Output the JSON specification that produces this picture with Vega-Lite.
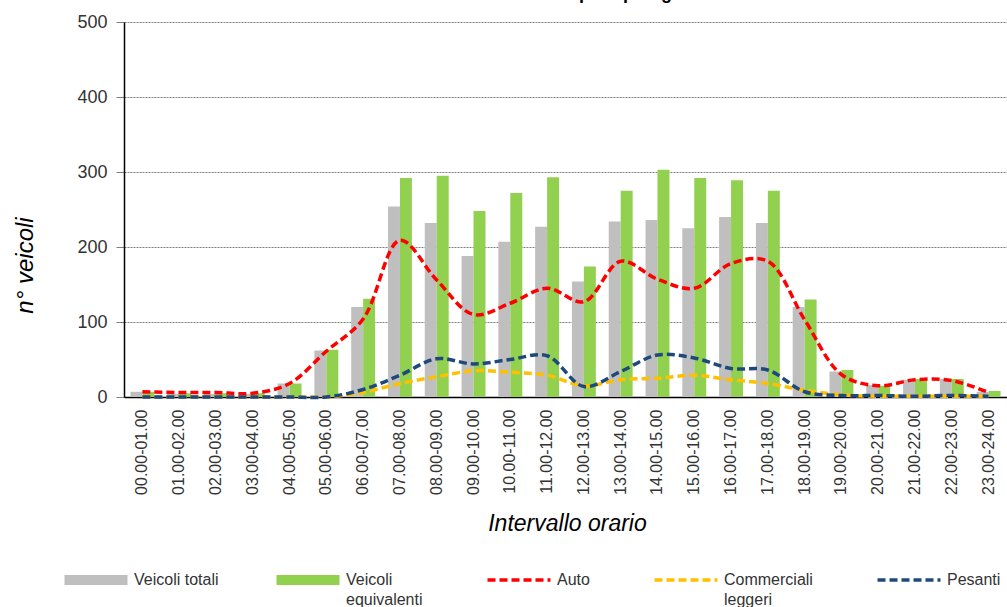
{
  "$schema": "https://vega.github.io/schema/vega-lite/v6.json",
  "width": 883,
  "height": 375,
  "autosize": {"type": "none"},
  "padding": {"left": 124, "top": 22, "right": 0, "bottom": 210},
  "background": "white",
  "title": {"text": "Flussi veicolari per tipologia", "font": "Liberation Sans", "fontSize": 18, "fontWeight": "bold", "color": "#000000", "anchor": "middle", "offset": 10},
  "config": {
    "font": "Liberation Sans",
    "view": {"stroke": null}
  },
  "datasets": {
    "flussi": [
      {"ora": "00.00-01.00", "serie": "Veicoli totali", "v": 7},
      {"ora": "01.00-02.00", "serie": "Veicoli totali", "v": 4},
      {"ora": "02.00-03.00", "serie": "Veicoli totali", "v": 4},
      {"ora": "03.00-04.00", "serie": "Veicoli totali", "v": 4},
      {"ora": "04.00-05.00", "serie": "Veicoli totali", "v": 18},
      {"ora": "05.00-06.00", "serie": "Veicoli totali", "v": 62},
      {"ora": "06.00-07.00", "serie": "Veicoli totali", "v": 120},
      {"ora": "07.00-08.00", "serie": "Veicoli totali", "v": 254},
      {"ora": "08.00-09.00", "serie": "Veicoli totali", "v": 232},
      {"ora": "09.00-10.00", "serie": "Veicoli totali", "v": 188},
      {"ora": "10.00-11.00", "serie": "Veicoli totali", "v": 207},
      {"ora": "11.00-12.00", "serie": "Veicoli totali", "v": 227},
      {"ora": "12.00-13.00", "serie": "Veicoli totali", "v": 154},
      {"ora": "13.00-14.00", "serie": "Veicoli totali", "v": 234},
      {"ora": "14.00-15.00", "serie": "Veicoli totali", "v": 236},
      {"ora": "15.00-16.00", "serie": "Veicoli totali", "v": 225},
      {"ora": "16.00-17.00", "serie": "Veicoli totali", "v": 240},
      {"ora": "17.00-18.00", "serie": "Veicoli totali", "v": 232},
      {"ora": "18.00-19.00", "serie": "Veicoli totali", "v": 120},
      {"ora": "19.00-20.00", "serie": "Veicoli totali", "v": 34},
      {"ora": "20.00-21.00", "serie": "Veicoli totali", "v": 16},
      {"ora": "21.00-22.00", "serie": "Veicoli totali", "v": 23},
      {"ora": "22.00-23.00", "serie": "Veicoli totali", "v": 24},
      {"ora": "23.00-24.00", "serie": "Veicoli totali", "v": 7},
      {"ora": "00.00-01.00", "serie": "Veicoli equivalenti", "v": 7},
      {"ora": "01.00-02.00", "serie": "Veicoli equivalenti", "v": 5},
      {"ora": "02.00-03.00", "serie": "Veicoli equivalenti", "v": 5},
      {"ora": "03.00-04.00", "serie": "Veicoli equivalenti", "v": 5},
      {"ora": "04.00-05.00", "serie": "Veicoli equivalenti", "v": 18},
      {"ora": "05.00-06.00", "serie": "Veicoli equivalenti", "v": 63},
      {"ora": "06.00-07.00", "serie": "Veicoli equivalenti", "v": 131},
      {"ora": "07.00-08.00", "serie": "Veicoli equivalenti", "v": 292},
      {"ora": "08.00-09.00", "serie": "Veicoli equivalenti", "v": 295},
      {"ora": "09.00-10.00", "serie": "Veicoli equivalenti", "v": 248},
      {"ora": "10.00-11.00", "serie": "Veicoli equivalenti", "v": 272},
      {"ora": "11.00-12.00", "serie": "Veicoli equivalenti", "v": 293},
      {"ora": "12.00-13.00", "serie": "Veicoli equivalenti", "v": 174},
      {"ora": "13.00-14.00", "serie": "Veicoli equivalenti", "v": 275},
      {"ora": "14.00-15.00", "serie": "Veicoli equivalenti", "v": 303},
      {"ora": "15.00-16.00", "serie": "Veicoli equivalenti", "v": 292},
      {"ora": "16.00-17.00", "serie": "Veicoli equivalenti", "v": 289},
      {"ora": "17.00-18.00", "serie": "Veicoli equivalenti", "v": 275},
      {"ora": "18.00-19.00", "serie": "Veicoli equivalenti", "v": 130},
      {"ora": "19.00-20.00", "serie": "Veicoli equivalenti", "v": 36},
      {"ora": "20.00-21.00", "serie": "Veicoli equivalenti", "v": 15},
      {"ora": "21.00-22.00", "serie": "Veicoli equivalenti", "v": 24},
      {"ora": "22.00-23.00", "serie": "Veicoli equivalenti", "v": 24},
      {"ora": "23.00-24.00", "serie": "Veicoli equivalenti", "v": 8},
      {"ora": "00.00-01.00", "serie": "Auto", "v": 7},
      {"ora": "01.00-02.00", "serie": "Auto", "v": 6},
      {"ora": "02.00-03.00", "serie": "Auto", "v": 6},
      {"ora": "03.00-04.00", "serie": "Auto", "v": 5},
      {"ora": "04.00-05.00", "serie": "Auto", "v": 18},
      {"ora": "05.00-06.00", "serie": "Auto", "v": 61},
      {"ora": "06.00-07.00", "serie": "Auto", "v": 104},
      {"ora": "07.00-08.00", "serie": "Auto", "v": 209},
      {"ora": "08.00-09.00", "serie": "Auto", "v": 156},
      {"ora": "09.00-10.00", "serie": "Auto", "v": 110},
      {"ora": "10.00-11.00", "serie": "Auto", "v": 125},
      {"ora": "11.00-12.00", "serie": "Auto", "v": 145},
      {"ora": "12.00-13.00", "serie": "Auto", "v": 127},
      {"ora": "13.00-14.00", "serie": "Auto", "v": 181},
      {"ora": "14.00-15.00", "serie": "Auto", "v": 157},
      {"ora": "15.00-16.00", "serie": "Auto", "v": 145},
      {"ora": "16.00-17.00", "serie": "Auto", "v": 178},
      {"ora": "17.00-18.00", "serie": "Auto", "v": 181},
      {"ora": "18.00-19.00", "serie": "Auto", "v": 103},
      {"ora": "19.00-20.00", "serie": "Auto", "v": 30},
      {"ora": "20.00-21.00", "serie": "Auto", "v": 15},
      {"ora": "21.00-22.00", "serie": "Auto", "v": 23},
      {"ora": "22.00-23.00", "serie": "Auto", "v": 22},
      {"ora": "23.00-24.00", "serie": "Auto", "v": 6},
      {"ora": "00.00-01.00", "serie": "Commerciali leggeri", "v": 0},
      {"ora": "01.00-02.00", "serie": "Commerciali leggeri", "v": 0},
      {"ora": "02.00-03.00", "serie": "Commerciali leggeri", "v": 0},
      {"ora": "03.00-04.00", "serie": "Commerciali leggeri", "v": 0},
      {"ora": "04.00-05.00", "serie": "Commerciali leggeri", "v": 0},
      {"ora": "05.00-06.00", "serie": "Commerciali leggeri", "v": 0},
      {"ora": "06.00-07.00", "serie": "Commerciali leggeri", "v": 6},
      {"ora": "07.00-08.00", "serie": "Commerciali leggeri", "v": 18},
      {"ora": "08.00-09.00", "serie": "Commerciali leggeri", "v": 27},
      {"ora": "09.00-10.00", "serie": "Commerciali leggeri", "v": 35},
      {"ora": "10.00-11.00", "serie": "Commerciali leggeri", "v": 33},
      {"ora": "11.00-12.00", "serie": "Commerciali leggeri", "v": 29},
      {"ora": "12.00-13.00", "serie": "Commerciali leggeri", "v": 15},
      {"ora": "13.00-14.00", "serie": "Commerciali leggeri", "v": 23},
      {"ora": "14.00-15.00", "serie": "Commerciali leggeri", "v": 25},
      {"ora": "15.00-16.00", "serie": "Commerciali leggeri", "v": 29},
      {"ora": "16.00-17.00", "serie": "Commerciali leggeri", "v": 23},
      {"ora": "17.00-18.00", "serie": "Commerciali leggeri", "v": 18},
      {"ora": "18.00-19.00", "serie": "Commerciali leggeri", "v": 9},
      {"ora": "19.00-20.00", "serie": "Commerciali leggeri", "v": 3},
      {"ora": "20.00-21.00", "serie": "Commerciali leggeri", "v": 1},
      {"ora": "21.00-22.00", "serie": "Commerciali leggeri", "v": 1},
      {"ora": "22.00-23.00", "serie": "Commerciali leggeri", "v": 1},
      {"ora": "23.00-24.00", "serie": "Commerciali leggeri", "v": 1},
      {"ora": "00.00-01.00", "serie": "Pesanti", "v": 0},
      {"ora": "01.00-02.00", "serie": "Pesanti", "v": 0},
      {"ora": "02.00-03.00", "serie": "Pesanti", "v": 0},
      {"ora": "03.00-04.00", "serie": "Pesanti", "v": 0},
      {"ora": "04.00-05.00", "serie": "Pesanti", "v": 0},
      {"ora": "05.00-06.00", "serie": "Pesanti", "v": 0},
      {"ora": "06.00-07.00", "serie": "Pesanti", "v": 10},
      {"ora": "07.00-08.00", "serie": "Pesanti", "v": 29},
      {"ora": "08.00-09.00", "serie": "Pesanti", "v": 51},
      {"ora": "09.00-10.00", "serie": "Pesanti", "v": 44},
      {"ora": "10.00-11.00", "serie": "Pesanti", "v": 50},
      {"ora": "11.00-12.00", "serie": "Pesanti", "v": 55},
      {"ora": "12.00-13.00", "serie": "Pesanti", "v": 14},
      {"ora": "13.00-14.00", "serie": "Pesanti", "v": 34},
      {"ora": "14.00-15.00", "serie": "Pesanti", "v": 56},
      {"ora": "15.00-16.00", "serie": "Pesanti", "v": 52},
      {"ora": "16.00-17.00", "serie": "Pesanti", "v": 38},
      {"ora": "17.00-18.00", "serie": "Pesanti", "v": 36},
      {"ora": "18.00-19.00", "serie": "Pesanti", "v": 7},
      {"ora": "19.00-20.00", "serie": "Pesanti", "v": 2},
      {"ora": "20.00-21.00", "serie": "Pesanti", "v": 2},
      {"ora": "21.00-22.00", "serie": "Pesanti", "v": 1},
      {"ora": "22.00-23.00", "serie": "Pesanti", "v": 2},
      {"ora": "23.00-24.00", "serie": "Pesanti", "v": 1}
    ]
  },
  "data": {"name": "flussi"},
  "encoding": {
    "x": {
      "field": "ora",
      "type": "nominal",
      "sort": null,
      "scale": {"paddingInner": 0.35, "paddingOuter": 0.175},
      "axis": {
        "title": "Intervallo orario",
        "titleFont": "Liberation Sans",
        "titleFontSize": 23,
        "titleFontStyle": "italic",
        "titleFontWeight": "normal",
        "titleColor": "#000000",
        "titleX": 443,
        "titleY": 133,
        "titleBaseline": "alphabetic",
        "titleAlign": "center",
        "labelAngle": 270,
        "labelFontSize": 16,
        "labelColor": "#333333",
        "labelPadding": 12,
        "ticks": false,
        "domain": true,
        "domainColor": "#000000",
        "domainWidth": 1.5,
        "grid": false
      }
    },
    "y": {
      "field": "v",
      "type": "quantitative",
      "scale": {"domain": [0, 500]},
      "axis": {
        "title": "n° veicoli",
        "titleFont": "Liberation Sans",
        "titleFontSize": 24,
        "titleFontStyle": "italic",
        "titleFontWeight": "normal",
        "titleColor": "#000000",
        "titleAngle": 270,
        "titleX": -99,
        "titleY": 243,
        "titleAlign": "center",
        "titleBaseline": "middle",
        "values": [0, 100, 200, 300, 400, 500],
        "labelFontSize": 18,
        "labelColor": "#333333",
        "labelPadding": 9,
        "tickSize": 8,
        "tickColor": "#808080",
        "domain": true,
        "domainColor": "#000000",
        "domainWidth": 1.5,
        "grid": true,
        "gridColor": "#7f7f7f",
        "gridDash": [2, 1],
        "gridWidth": 1
      }
    }
  },
  "layer": [
    {
      "transform": [{"filter": {"field": "serie", "oneOf": ["Veicoli totali", "Veicoli equivalenti"]}}],
      "mark": {"type": "bar"},
      "encoding": {
        "xOffset": {"field": "serie", "type": "nominal", "sort": ["Veicoli totali", "Veicoli equivalenti"], "scale": {"paddingInner": 0, "paddingOuter": 0}},
        "color": {
          "field": "serie",
          "type": "nominal",
          "scale": {
            "domain": ["Veicoli totali", "Veicoli equivalenti", "Auto", "Commerciali leggeri", "Pesanti"],
            "range": ["#BFBFBF", "#92D050", "#FF0000", "#FFC000", "#1F497D"]
          },
          "legend": {
            "title": null,
            "orient": "none",
            "legendX": -60,
            "legendY": 550,
            "direction": "horizontal",
            "gridAlign": "none",
            "columnPadding": 57,
            "padding": 0,
            "symbolSize": 3969,
            "symbolType": "M-1,-0.16H1V0.16H-1Z",
            "labelFont": "Liberation Sans",
            "labelFontSize": 16,
            "labelColor": "#333333",
            "labelOffset": 6,
            "labelLimit": 200,
            "labelExpr": "datum.label == 'Veicoli equivalenti' ? ['Veicoli', 'equivalenti'] : datum.label == 'Commerciali leggeri' ? ['Commerciali', 'leggeri'] : datum.label",
            "encode": {
              "symbols": {
                "update": {
                  "x": {"value": 32},
                  "shape": {"signal": "(datum.value == 'Veicoli totali' || datum.value == 'Veicoli equivalenti') ? 'M-1,-0.16H1V0.16H-1Z' : 'M-1,0H1'"},
                  "fill": {"signal": "(datum.value == 'Veicoli totali' || datum.value == 'Veicoli equivalenti') ? scale('color', datum.value) : 'transparent'"},
                  "stroke": {"signal": "(datum.value == 'Veicoli totali' || datum.value == 'Veicoli equivalenti') ? 'transparent' : scale('color', datum.value)"},
                  "strokeWidth": {"signal": "(datum.value == 'Veicoli totali' || datum.value == 'Veicoli equivalenti') ? 0 : 3.5"},
                  "strokeDash": {"signal": "(datum.value == 'Veicoli totali' || datum.value == 'Veicoli equivalenti') ? [1, 0] : [8, 4]"},
                  "opacity": {"value": 1}
                }
              },
              "labels": {
                "update": {
                  "x": {"value": 70},
                  "lineHeight": {"value": 20},
                  "baseline": {"value": "middle"}
                }
              }
            }
          }
        }
      }
    },
    {
      "transform": [{"filter": {"field": "serie", "oneOf": ["Auto", "Commerciali leggeri", "Pesanti"]}}],
      "mark": {"type": "line", "strokeDash": [8, 4], "strokeWidth": 3.5, "interpolate": "catmull-rom"},
      "encoding": {
        "color": {"field": "serie", "type": "nominal"}
      }
    }
  ]
}
